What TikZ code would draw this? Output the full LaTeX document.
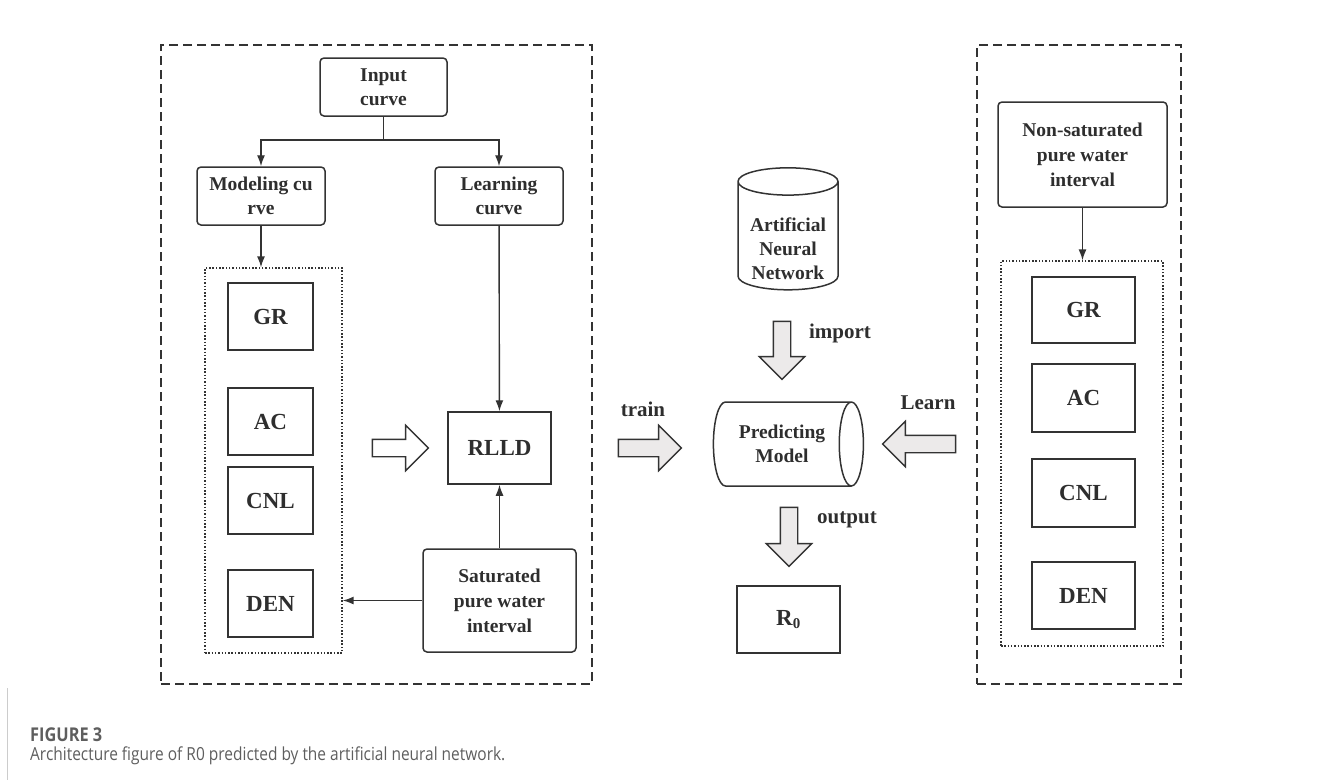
\documentclass[tikz,border=0pt]{standalone}
\usepackage{fontspec}
\setmainfont{Liberation Serif}
\newfontfamily\capfont[FakeStretch=0.86]{Open Sans}
\usetikzlibrary{arrows.meta,shapes.geometric,shapes.arrows}

\definecolor{linec}{HTML}{333333}
\definecolor{txtc}{HTML}{2E2E2E}
\definecolor{arrfill}{HTML}{ECEAEA}
\definecolor{capc}{HTML}{5E5E5E}

\tikzset{
    lbl/.style={text=txtc, font=\bfseries\fontsize{19.5}{24}\selectfont, align=center},
    rbox/.style={lbl, draw=linec, line width=1.5pt, rounded corners=4pt, inner sep=0pt},
    sbox/.style={lbl, draw=linec, line width=1.5pt, inner sep=0pt, font=\bfseries\fontsize{23}{26}\selectfont},
    grp/.style={draw=linec, line width=1.3pt, dash pattern=on 1.5pt off 1.8pt, inner sep=0pt},
    panel/.style={draw=linec, line width=1.8pt, dash pattern=on 9pt off 5pt, inner sep=0pt},
    arr/.style={draw=linec, line width=1.4pt, -{Latex[length=11pt,width=8pt]}},
    blockarr/.style={single arrow, draw=linec, line width=1.4pt, fill=arrfill, inner sep=8pt,
        minimum width=45pt, single arrow head extend=14pt},
    arrlbl/.style={text=txtc, font=\bfseries\fontsize{21}{24}\selectfont},
    drum/.style={cylinder, draw=linec, line width=1.5pt, inner sep=0pt, lbl},
}

\begin{document}
\begin{tikzpicture}[x=1pt,y=-1pt]
    \useasboundingbox (0,0) rectangle (1322,780);

    %left panel
    \node[panel, minimum width=431pt, minimum height=639pt] (leftpanel) at (376.5,364.5) {};
    \node[rbox, minimum width=127pt, minimum height=58pt] (input) at (383.5,87) {Input\\curve};
    \node[rbox, minimum width=128pt, minimum height=58pt] (model) at (261,196) {Modeling cu\\rve};
    \node[rbox, minimum width=128pt, minimum height=58pt] (learn) at (499,196) {Learning\\curve};
    \coordinate (split) at (383.5,140);

    \node[grp, minimum width=137pt, minimum height=385pt] (leftgrp) at (273.5,460.5) {};
    \node[sbox, minimum width=85pt, minimum height=67pt] (lgr) at (270.5,316.5) {GR};
    \node[sbox, minimum width=85pt, minimum height=67pt] (lac) at (270.5,421.5) {AC};
    \node[sbox, minimum width=85pt, minimum height=67pt] (lcnl) at (270.5,500.5) {CNL};
    \node[sbox, minimum width=85pt, minimum height=67pt] (lden) at (270.5,603.5) {DEN};

    \node[sbox, minimum width=103pt, minimum height=72pt] (rlld) at (499.5,448) {RLLD};
    \node[rbox, minimum width=153pt, minimum height=103pt, font=\bfseries\fontsize{19.5}{25}\selectfont] (sat) at (499.5,600.5) {Saturated\\pure water\\interval};
    \node[blockarr, fill=white, minimum height=56pt] (toRLLD) at (396,448) {};

    \draw[line width=1.4pt, draw=linec] (input) -- (split);
    \draw[arr] (split) -| (model);
    \draw[arr] (split) -| (learn);
    \draw[arr] (model) -- (model |- leftgrp.north);
    \draw[arr] (learn) -- (rlld);
    \draw[arr] (sat) -- (rlld);
    \draw[arr] (sat.west) -- (leftgrp.east |- sat.west);

    %middle
    \node[drum, shape border rotate=90, aspect=0.36, minimum width=100pt, minimum height=122pt] (ann) at (788,236)
        {\raisebox{-15pt}[\height][\depth]{\begin{tabular}{@{}c@{}}Artificial\\Neural\\Network\end{tabular}}};
    \node[drum, aspect=0.64, minimum width=84pt, minimum height=150pt] (pred) at (782,444) {Predicting\\Model};
    \node[sbox, minimum width=103pt, minimum height=67pt] (rzero) at (788.5,619.5) {R\textsubscript{\fontsize{15}{15}\selectfont 0}};

    \node[blockarr, minimum height=63pt] (trainarr) at (645.5,448) {};
    \node[arrlbl] (train) at (643,409) {train};
    \node[blockarr, rotate=-90, minimum height=58pt] (importarr) at (782,346) {};
    \node[arrlbl] (import) at (840,333) {import};
    \node[blockarr, rotate=-90, minimum height=59pt] (outputarr) at (789,532.5) {};
    \node[arrlbl] (output) at (847,520) {output};
    \node[blockarr, rotate=180, minimum height=73pt] (learnarr) at (923.5,444) {};
    \node[arrlbl] (learnlbl) at (928,403) {Learn};

    %right panel
    \node[panel, minimum width=204pt, minimum height=639pt] (rightpanel) at (1079,364.5) {};
    \node[rbox, minimum width=169pt, minimum height=105pt, font=\bfseries\fontsize{19.5}{25}\selectfont] (nonsat) at (1082.5,154.5) {Non-saturated\\pure water\\interval};
    \node[grp, minimum width=162pt, minimum height=385pt] (rightgrp) at (1082,453.5) {};
    \node[sbox, minimum width=103pt, minimum height=66pt] (rgr) at (1083.5,310) {GR};
    \node[sbox, minimum width=103pt, minimum height=68pt] (rac) at (1083.5,398) {AC};
    \node[sbox, minimum width=103pt, minimum height=68pt] (rcnl) at (1083.5,493) {CNL};
    \node[sbox, minimum width=103pt, minimum height=67pt] (rden) at (1083.5,595.5) {DEN};
    \draw[arr] (nonsat) -- (nonsat |- rightgrp.north);

    %caption
    \draw[draw=black!20, line width=0.8pt] (7,688) -- (7,780);
    \node[anchor=west, text=capc, font=\capfont\bfseries\fontsize{19}{21}\selectfont, inner sep=0pt] (fignum) at (30,735) {FIGURE 3};
    \node[anchor=west, text=capc, font=\capfont\fontsize{18}{20}\selectfont, inner sep=0pt] (caption) at (30,756) {Architecture figure of R0 predicted by the artificial neural network.};
\end{tikzpicture}
\end{document}
